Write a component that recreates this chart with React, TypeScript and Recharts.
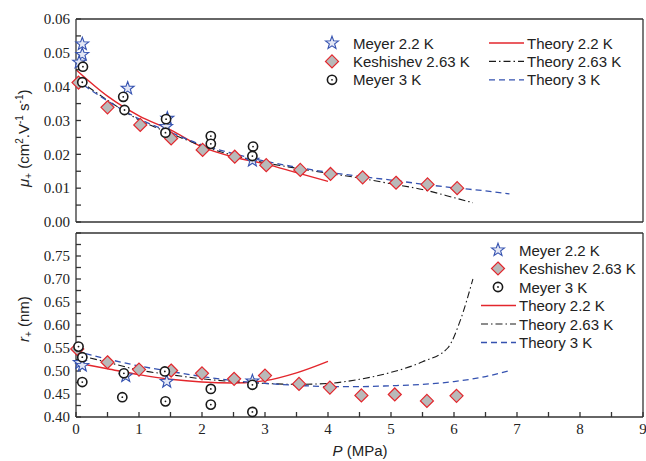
import { ComposedChart, Line, Scatter, XAxis, YAxis, Legend } from 'recharts'

// axis ticks
const pTicks = [0, 0.5, 1, 1.5, 2, 2.5, 3, 3.5, 4, 4.5, 5, 5.5, 6, 6.5, 7, 7.5, 8, 8.5, 9]
const muTicks = [0, 0.005, 0.01, 0.015, 0.02, 0.025, 0.03, 0.035, 0.04, 0.045, 0.05, 0.055, 0.06]
const rTicks = [0.4, 0.425, 0.45, 0.475, 0.5, 0.525, 0.55, 0.575, 0.6, 0.625, 0.65, 0.675, 0.7, 0.725, 0.75, 0.775, 0.8]

// top panel: mobility mu+ (cm2/Vs)
const meyer22P = [0.1, 0.1, 0.05, 0.82, 1.45, 1.43, 2.8]
const meyer22Mu = [0.0526, 0.0495, 0.0472, 0.0395, 0.0306, 0.0282, 0.0182]
const keshP = [0.04, 0.5, 1.02, 1.51, 2.01, 2.52, 3.02, 3.56, 4.04, 4.55, 5.08, 5.58, 6.05]
const keshMu = [0.0412, 0.0339, 0.0287, 0.0247, 0.0213, 0.0193, 0.0168, 0.0154, 0.0142, 0.0132, 0.0116, 0.0111, 0.01]
const meyer3P = [0.11, 0.1, 0.75, 0.77, 1.43, 1.42, 2.14, 2.14, 2.81, 2.8]
const meyer3Mu = [0.0459, 0.0413, 0.037, 0.0331, 0.0304, 0.0264, 0.0254, 0.0231, 0.0223, 0.0195]

const th22P = [0, 0.5, 1, 1.5, 2, 2.5, 3, 3.5, 4]
const th22Mu = [0.045, 0.0372, 0.0314, 0.0272, 0.0222, 0.0192, 0.0172, 0.0146, 0.012]
const th263P = [0, 0.5, 1, 1.5, 2, 2.5, 3, 3.5, 4, 4.5, 5, 5.5, 6, 6.3]
const th263Mu = [0.0425, 0.036, 0.0302, 0.0262, 0.0225, 0.0197, 0.0175, 0.0159, 0.0144, 0.013, 0.0113, 0.0096, 0.0072, 0.0057]
const th3P = [0, 0.5, 1, 1.5, 2, 2.5, 3, 3.5, 4, 4.5, 5, 5.5, 6, 6.5, 6.88]
const th3Mu = [0.042, 0.0358, 0.0305, 0.0265, 0.0228, 0.0202, 0.018, 0.0162, 0.0147, 0.0135, 0.0124, 0.0112, 0.0101, 0.0092, 0.0083]

// bottom panel: radius r+ (nm)
const meyer22RP = [0.06, 0.1, 0.79, 1.44, 2.8]
const meyer22R = [0.518, 0.512, 0.489, 0.477, 0.478]
const keshRP = [0.02, 0.5, 1.0, 1.51, 2.0, 2.51, 3.0, 3.54, 4.03, 4.53, 5.06, 5.57, 6.04]
const keshR = [0.548, 0.519, 0.503, 0.501, 0.495, 0.483, 0.49, 0.472, 0.464, 0.447, 0.449, 0.435, 0.446]
const meyer3RP = [0.04, 0.1, 0.1, 0.76, 0.735, 1.41, 1.42, 2.14, 2.14, 2.8, 2.8]
const meyer3R = [0.553, 0.53, 0.476, 0.495, 0.443, 0.499, 0.434, 0.461, 0.427, 0.47, 0.411]

const th22RP = [0, 0.5, 1, 1.5, 2, 2.5, 3, 3.5, 4]
const th22R = [0.518, 0.505, 0.492, 0.482, 0.476, 0.474, 0.479, 0.496, 0.521]
const th263RP = [0, 0.5, 1, 1.5, 2, 2.5, 3, 3.5, 4, 4.5, 5, 5.5, 5.9, 6.1, 6.3]
const th263R = [0.536, 0.519, 0.502, 0.492, 0.483, 0.477, 0.473, 0.471, 0.473, 0.482, 0.497, 0.52, 0.55, 0.61, 0.7]
const th3RP = [0, 0.5, 1, 1.5, 2, 2.5, 3, 3.5, 4, 4.5, 5, 5.5, 6, 6.5, 6.86]
const th3R = [0.543, 0.526, 0.511, 0.499, 0.488, 0.479, 0.473, 0.469, 0.466, 0.466, 0.468, 0.471, 0.477, 0.488, 0.5]

const legendNames = ['Meyer 2.2 K', 'Keshishev 2.63 K', 'Meyer 3 K', 'Theory 2.2 K', 'Theory 2.63 K', 'Theory 3 K']

const RED = '#e3262c'
const BLUE = '#3552b0'
const DARK = '#1a1a1a'
const frame = { stroke: '#333', strokeWidth: 1.3 }
const serif = "'Liberation Serif', 'Times New Roman', serif"
const sans = { fontFamily: "'Liberation Sans', Arial, sans-serif", fontSize: 15, fill: '#222' }

const toPts = (xs: number[], ys: number[]) => xs.map((x, i) => ({ x, y: ys[i] }))
const fmtP = (v: number) => (Number.isInteger(v) ? String(v) : '')
const fmtMu = (v: number) => (Math.round(v * 1000) % 10 === 0 ? v.toFixed(2) : '')
const fmtR = (v: number) => (Math.round(v * 1000) % 50 === 0 && v < 0.79 ? v.toFixed(2) : '')

const XTick = ({ x, y, payload }: any) => (
  <text x={x} y={y} dy="0.71em" textAnchor="middle" style={{ fontFamily: serif, fontSize: 15, fill: '#222' }}>
    {fmtP(payload.value)}
  </text>
)
const makeYTick = (fmt: (v: number) => string) => ({ x, y, payload }: any) => (
  <text x={x} y={y} dy="0.35em" textAnchor="end" style={{ fontFamily: serif, fontSize: 15, fill: '#222' }}>
    {fmt(payload.value)}
  </text>
)

const starPath = (cx: number, cy: number, ro: number, ri: number) => {
  let d = ''
  for (let i = 0; i < 10; i++) {
    const r = i % 2 === 0 ? ro : ri
    const a = -Math.PI / 2 + (i * Math.PI) / 5
    d += (i === 0 ? 'M' : 'L') + (cx + r * Math.cos(a)).toFixed(2) + ',' + (cy + r * Math.sin(a)).toFixed(2)
  }
  return d + 'Z'
}

const StarMark = ({ cx, cy }: any) => (
  <path d={starPath(cx, cy, 6.8, 2.8)} fill="#e4e8f6" stroke={BLUE} strokeWidth={1.1} />
)
const DiamondMark = ({ cx, cy }: any) => (
  <path d={`M${cx},${cy - 6.5}L${cx + 6.5},${cy}L${cx},${cy + 6.5}L${cx - 6.5},${cy}Z`} fill="#b9b9b9" stroke={RED} strokeWidth={1.2} />
)
const CircleMark = ({ cx, cy }: any) => (
  <g>
    <circle cx={cx} cy={cy} r={4.6} fill="#fff" stroke={DARK} strokeWidth={1.6} />
    <circle cx={cx} cy={cy} r={0.9} fill={DARK} />
  </g>
)

const lineStyles: Record<string, { stroke: string; dash?: string; width: number }> = {
  'Theory 2.2 K': { stroke: RED, width: 1.4 },
  'Theory 2.63 K': { stroke: DARK, dash: '7 3 1.5 3', width: 1.1 },
  'Theory 3 K': { stroke: BLUE, dash: '6 4', width: 1.3 },
}
const markFor = (name: string, cx: number, cy: number) => {
  if (name.startsWith('Meyer 2.2')) return <StarMark cx={cx} cy={cy} />
  if (name.startsWith('Keshishev')) return <DiamondMark cx={cx} cy={cy} />
  return <CircleMark cx={cx} cy={cy} />
}

const LegendRow = ({ name, x, y }: { name: string; x: number; y: number }) => {
  const ls = lineStyles[name]
  return (
    <g>
      {ls ? (
        <line x1={x - 17} x2={x + 18} y1={y} y2={y} stroke={ls.stroke} strokeWidth={ls.width} strokeDasharray={ls.dash} />
      ) : (
        markFor(name, x, y)
      )}
      <text x={x + 21} y={y} dominantBaseline="central" style={sans}>
        {name}
      </text>
    </g>
  )
}

const TopLegend = () => (
  <svg width={330} height={64}>
    {legendNames.slice(0, 3).map((n, i) => (
      <LegendRow key={n} name={n} x={22} y={13 + i * 18.4} />
    ))}
    {legendNames.slice(3).map((n, i) => (
      <LegendRow key={n} name={n} x={196} y={13 + i * 18.4} />
    ))}
  </svg>
)

const BottomLegend = () => (
  <svg width={176} height={118}>
    {legendNames.map((n, i) => (
      <LegendRow key={n} name={n} x={28} y={12 + i * 18.5} />
    ))}
  </svg>
)

// rotated axis titles, anchored at the start of the text (bottom end)
const MuTitle = () => (
  <text x={29} y={187} transform="rotate(-90 29 187)" style={sans}>
    <tspan fontStyle="italic">μ</tspan>
    <tspan fontSize={10} dy={3}>+</tspan>
    <tspan dy={-3}> (cm</tspan>
    <tspan fontSize={10} dy={-6}>2</tspan>
    <tspan dy={6}>.V</tspan>
    <tspan fontSize={10} dy={-6}>-1</tspan>
    <tspan dy={6}> s</tspan>
    <tspan fontSize={10} dy={-6}>-1</tspan>
    <tspan dy={6}>)</tspan>
  </text>
)

const RTitle = () => (
  <text x={29} y={116} transform="rotate(-90 29 116)" style={sans}>
    <tspan fontStyle="italic">r</tspan>
    <tspan fontSize={10} dy={3}>+</tspan>
    <tspan dy={-3}> (nm)</tspan>
  </text>
)

const PTitle = () => (
  <text x={360} y={230} textAnchor="middle" style={sans}>
    <tspan fontStyle="italic">P</tspan>
    <tspan> (MPa)</tspan>
  </text>
)

type PanelProps = {
  height: number
  margin: { top: number; right: number; bottom: number; left: number }
  yDomain: [number, number]
  yTicks: number[]
  yFmt: (v: number) => string
  xLabels: boolean
  scatters: { name: string; data: { x: number; y: number }[] }[]
  lines: { name: string; data: { x: number; y: number }[] }[]
  legend: React.ReactNode
  legendPos: { left: number; top: number; width: number; height: number }
  yTitle: React.ReactElement
}

function Panel(p: PanelProps) {
  return (
    <ComposedChart width={646} height={p.height} margin={p.margin}>
      <XAxis
        xAxisId="b"
        dataKey="x"
        type="number"
        domain={[0, 9]}
        ticks={pTicks}
        interval={0}
        tickSize={-5}
        tickMargin={11}
        tick={p.xLabels ? <XTick /> : false}
        axisLine={frame}
        tickLine={frame}
        height={1}
        label={p.xLabels ? <PTitle /> : undefined}
      />
      <XAxis xAxisId="t" orientation="top" type="number" domain={[0, 9]} ticks={pTicks} interval={0}
        tickSize={-5} tick={false} axisLine={frame} tickLine={frame} height={1} />
      <YAxis
        yAxisId="l"
        type="number"
        domain={p.yDomain}
        ticks={p.yTicks}
        interval={0}
        tickSize={-5}
        tickMargin={11}
        tick={makeYTick(p.yFmt)}
        axisLine={frame}
        tickLine={frame}
        width={76}
        label={p.yTitle}
      />
      <YAxis yAxisId="r" orientation="right" type="number" domain={p.yDomain} ticks={p.yTicks} interval={0}
        tickSize={-5} tick={false} axisLine={frame} tickLine={frame} width={1} />
      {p.lines.map((s) => {
        const ls = lineStyles[s.name]
        return (
          <Line
            key={s.name}
            name={s.name}
            data={s.data}
            dataKey="y"
            xAxisId="b"
            yAxisId="l"
            type="monotone"
            stroke={ls.stroke}
            strokeWidth={ls.width}
            strokeDasharray={ls.dash}
            dot={false}
            activeDot={false}
            isAnimationActive={false}
          />
        )
      })}
      {p.scatters.map((s) => (
        <Scatter
          key={s.name}
          name={s.name}
          data={s.data}
          dataKey="y"
          xAxisId="b"
          yAxisId="l"
          shape={(props: any) => markFor(s.name, props.cx, props.cy)}
          isAnimationActive={false}
        />
      ))}
      <Legend
        layout="vertical"
        align="center"
        verticalAlign="middle"
        wrapperStyle={{ ...p.legendPos, position: 'absolute' }}
        content={() => p.legend}
      />
    </ComposedChart>
  )
}

export default function App() {
  return (
    <div style={{ position: 'absolute', left: 0, top: 0, width: 646, height: 461, background: '#fff' }}>
      <div style={{ position: 'absolute', left: 0, top: 0 }}>
        <Panel
          height={232}
          margin={{ top: 18, right: 2, bottom: 9, left: 0 }}
          yDomain={[0, 0.06]}
          yTicks={muTicks}
          yFmt={fmtMu}
          xLabels={false}
          scatters={[
            { name: 'Meyer 2.2 K', data: toPts(meyer22P, meyer22Mu) },
            { name: 'Keshishev 2.63 K', data: toPts(keshP, keshMu) },
            { name: 'Meyer 3 K', data: toPts(meyer3P, meyer3Mu) },
          ]}
          lines={[
            { name: 'Theory 2.2 K', data: toPts(th22P, th22Mu) },
            { name: 'Theory 2.63 K', data: toPts(th263P, th263Mu) },
            { name: 'Theory 3 K', data: toPts(th3P, th3Mu) },
          ]}
          legend={<TopLegend />}
          legendPos={{ left: 310, top: 30, width: 330, height: 64 }}
          yTitle={<MuTitle />}
        />
      </div>
      <div style={{ position: 'absolute', left: 0, top: 226 }}>
        <Panel
          height={235}
          margin={{ top: 6, right: 2, bottom: 43, left: 0 }}
          yDomain={[0.4, 0.8]}
          yTicks={rTicks}
          yFmt={fmtR}
          xLabels={true}
          scatters={[
            { name: 'Meyer 2.2 K', data: toPts(meyer22RP, meyer22R) },
            { name: 'Keshishev 2.63 K', data: toPts(keshRP, keshR) },
            { name: 'Meyer 3 K', data: toPts(meyer3RP, meyer3R) },
          ]}
          lines={[
            { name: 'Theory 2.2 K', data: toPts(th22RP, th22R) },
            { name: 'Theory 2.63 K', data: toPts(th263RP, th263R) },
            { name: 'Theory 3 K', data: toPts(th3RP, th3R) },
          ]}
          legend={<BottomLegend />}
          legendPos={{ left: 470, top: 12, width: 176, height: 118 }}
          yTitle={<RTitle />}
        />
      </div>
    </div>
  )
}
